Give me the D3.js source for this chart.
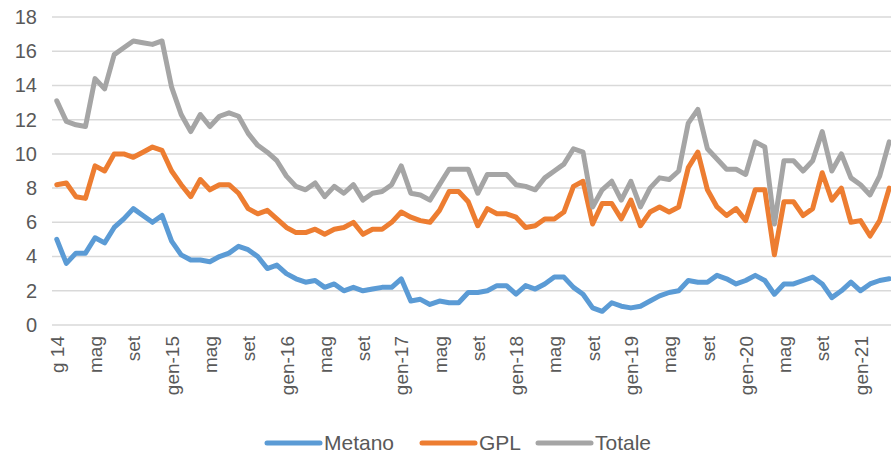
<!DOCTYPE html>
<html>
<head>
<meta charset="utf-8">
<script src="https://cdn.jsdelivr.net/npm/d3@7"></script>
<style>
  body { margin: 0; background: #fff; }
  text { font-family: "Liberation Sans", Arial, sans-serif; fill: #595959; }
</style>
</head>
<body>
<div id="chart"></div>
<script>
// monthly values, gen-14 .. apr-21
var metano = [5.0, 3.6, 4.2, 4.2, 5.1, 4.8, 5.7, 6.2, 6.8, 6.4, 6.0, 6.4,
    4.9, 4.1, 3.8, 3.8, 3.7, 4.0, 4.2, 4.6, 4.4, 4.0, 3.3, 3.5,
    3.0, 2.7, 2.5, 2.6, 2.2, 2.4, 2.0, 2.2, 2.0, 2.1, 2.2, 2.2,
    2.7, 1.4, 1.5, 1.2, 1.4, 1.3, 1.3, 1.9, 1.9, 2.0, 2.3, 2.3,
    1.8, 2.3, 2.1, 2.4, 2.8, 2.8, 2.2, 1.8, 1.0, 0.8, 1.3, 1.1,
    1.0, 1.1, 1.4, 1.7, 1.9, 2.0, 2.6, 2.5, 2.5, 2.9, 2.7, 2.4,
    2.6, 2.9, 2.6, 1.8, 2.4, 2.4, 2.6, 2.8, 2.4, 1.6, 2.0, 2.5,
    2.0, 2.4, 2.6, 2.7];

var gpl = [8.2, 8.3, 7.5, 7.4, 9.3, 9.0, 10.0, 10.0, 9.8, 10.1, 10.4, 10.2,
    9.0, 8.2, 7.5, 8.5, 7.9, 8.2, 8.2, 7.7, 6.8, 6.5, 6.7, 6.2,
    5.7, 5.4, 5.4, 5.6, 5.3, 5.6, 5.7, 6.0, 5.3, 5.6, 5.6, 6.0,
    6.6, 6.3, 6.1, 6.0, 6.7, 7.8, 7.8, 7.2, 5.8, 6.8, 6.5, 6.5,
    6.3, 5.7, 5.8, 6.2, 6.2, 6.6, 8.1, 8.4, 5.9, 7.1, 7.1, 6.2,
    7.3, 5.8, 6.6, 6.9, 6.6, 6.9, 9.2, 10.1, 7.9, 6.9, 6.4, 6.8,
    6.1, 7.9, 7.9, 4.1, 7.2, 7.2, 6.4, 6.8, 8.9, 7.3, 8.0, 6.0,
    6.1, 5.2, 6.1, 8.0];

var totale = [13.1, 11.9, 11.7, 11.6, 14.4, 13.8, 15.8, 16.2, 16.6, 16.5, 16.4, 16.6,
    13.9, 12.3, 11.3, 12.3, 11.6, 12.2, 12.4, 12.2, 11.2, 10.5, 10.1, 9.6,
    8.7, 8.1, 7.9, 8.3, 7.5, 8.1, 7.7, 8.2, 7.3, 7.7, 7.8, 8.2,
    9.3, 7.7, 7.6, 7.3, 8.2, 9.1, 9.1, 9.1, 7.7, 8.8, 8.8, 8.8,
    8.2, 8.1, 7.9, 8.6, 9.0, 9.4, 10.3, 10.1, 6.9, 7.9, 8.4, 7.3,
    8.4, 6.9, 8.0, 8.6, 8.5, 9.0, 11.8, 12.6, 10.3, 9.7, 9.1, 9.1,
    8.8, 10.7, 10.4, 5.9, 9.6, 9.6, 9.0, 9.6, 11.3, 9.0, 10.0, 8.6,
    8.2, 7.6, 8.7, 10.7];

// one label every 4 months
var tickLabels = ["g 14", "mag", "set", "gen-15", "mag", "set", "gen-16", "mag", "set",
    "gen-17", "mag", "set", "gen-18", "mag", "set", "gen-19", "mag", "set",
    "gen-20", "mag", "set", "gen-21"];

var seriesNames = ["Metano", "GPL", "Totale"];
var seriesColors = ["#5b9bd5", "#ed7d31", "#a5a5a5"];

var width = 891, height = 458;

var svg = d3.select("#chart")
    .append("svg")
    .attr("width", width)
    .attr("height", height);

var months = d3.range(metano.length);

// x scale - category axis, points in the middle of each band
var xScale = d3.scalePoint()
    .domain(months)
    .range([52, 894])
    .padding(0.5);

var yScale = d3.scaleLinear()
    .domain([0, 18])
    .range([325, 17]);

// gridlines
svg.append("g")
    .selectAll("line")
    .data(yScale.ticks(9))
    .enter()
    .append("line")
    .attr("x1", 52)
    .attr("x2", width)
    .attr("y1", function(d) { return yScale(d); })
    .attr("y2", function(d) { return yScale(d); })
    .attr("stroke", "#d9d9d9")
    .attr("stroke-width", 1.5);

// y axis labels
var yAxis = d3.axisLeft(yScale).ticks(9).tickSize(0).tickPadding(0);
svg.append("g")
    .attr("transform", "translate(37,0)")
    .call(yAxis)
    .call(function(g) { g.select(".domain").remove(); })
    .selectAll("text")
    .attr("font-size", "20px")
    .style("font-family", "'Liberation Sans', Arial, sans-serif")
    .attr("fill", "#595959");

// x axis labels (rotated)
var xAxis = d3.axisBottom(xScale)
    .tickValues(months.filter(function(d) { return d % 4 == 0; }))
    .tickFormat(function(d) { return tickLabels[d / 4]; })
    .tickSize(0);

svg.append("g")
    .attr("transform", "translate(0,336)")
    .call(xAxis)
    .call(function(g) { g.select(".domain").remove(); })
    .selectAll("text")
    .attr("font-size", "19px")
    .style("font-family", "'Liberation Sans', Arial, sans-serif")
    .attr("fill", "#595959")
    .style("text-anchor", "end")
    .attr("x", 0)
    .attr("y", 0)
    .attr("dx", 0)
    .attr("dy", "0.35em")
    .attr("transform", "rotate(-90)");

// lines
var allSeries = [metano, gpl, totale];
var line = d3.line()
    .x(function(d, i) { return xScale(i); })
    .y(function(d) { return yScale(d); });

svg.append("g")
    .selectAll("path")
    .data(allSeries)
    .enter()
    .append("path")
    .attr("d", line)
    .attr("fill", "none")
    .attr("stroke", function(d, i) { return seriesColors[i]; })
    .attr("stroke-width", 5)
    .attr("stroke-linejoin", "round")
    .attr("stroke-linecap", "round");

// legend
var legendX = [267, 422, 538];
var legend = svg.append("g")
    .selectAll("g")
    .data(seriesNames)
    .enter()
    .append("g")
    .attr("transform", function(d, i) { return "translate(" + legendX[i] + ",443)"; });

legend.append("line")
    .attr("x1", 0)
    .attr("x2", 53)
    .attr("stroke", function(d, i) { return seriesColors[i]; })
    .attr("stroke-width", 5)
    .attr("stroke-linecap", "round");

legend.append("text")
    .attr("x", 57)
    .attr("y", 0)
    .attr("dy", "0.35em")
    .attr("font-size", "21px")
    .text(function(d) { return d; });
</script>
</body>
</html>
